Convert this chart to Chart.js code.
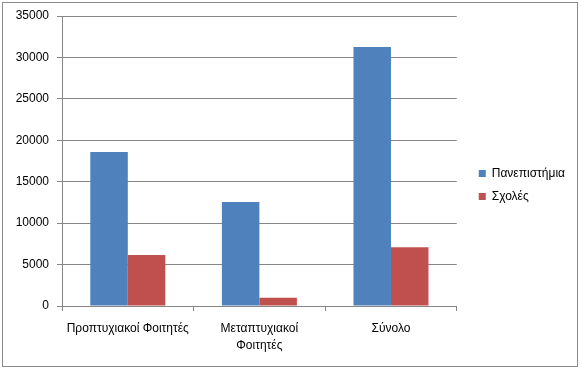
<!DOCTYPE html>
<html>
<head>
<meta charset="utf-8">
<script src="https://cdn.jsdelivr.net/npm/chart.js@4/dist/chart.umd.min.js"></script>
<style>
  html, body { margin: 0; padding: 0; background: #fff; }
  #wrap { width: 581px; height: 370px; }
</style>
</head>
<body>
<div id="wrap"><canvas id="chart" width="581" height="370"></canvas></div>
<script>
  // categorias y series
  const categorias = ['Προπτυχιακοί Φοιτητές', ['Μεταπτυχιακοί', 'Φοιτητές'], 'Σύνολο'];
  const panepistimia = [18600, 12550, 31250];
  const scholes = [6150, 1000, 7100];
  const ticksY = [0, 5000, 10000, 15000, 20000, 25000, 30000, 35000];

  const gris = '#868686';
  const fuente = { family: 'Liberation Sans', size: 12 };

  // marco exterior gris
  const marco = {
    id: 'marco',
    beforeDraw(chart) {
      const ctx = chart.ctx;
      ctx.save();
      ctx.fillStyle = '#fff';
      ctx.fillRect(0, 0, chart.width, chart.height);
      ctx.strokeStyle = '#8a8a8a';
      ctx.lineWidth = 1;
      ctx.strokeRect(2.5, 2.5, 575, 364);
      ctx.restore();
    },
    afterLayout(chart) {
      // separar la leyenda del area del grafico
      const lg = chart.legend;
      lg.left += 11;
      lg.right += 11;
      lg.top -= 8;
      lg.bottom -= 8;
    }
  };

  new Chart(document.getElementById('chart').getContext('2d'), {
    type: 'bar',
    data: {
      labels: categorias,
      datasets: [{
        label: 'Πανεπιστήμια',
        backgroundColor: '#4F81BD',
        data: panepistimia
      }, {
        label: 'Σχολές',
        backgroundColor: '#C0504D',
        data: scholes
      }]
    },
    options: {
      responsive: false,
      animation: false,
      devicePixelRatio: 1,
      categoryPercentage: 0.57,
      barPercentage: 1,
      layout: { padding: { top: 16, left: 0, right: 17, bottom: 0 } },
      plugins: {
        tooltip: { enabled: false },
        legend: {
          position: 'right',
          labels: {
            color: '#000',
            font: fuente,
            boxWidth: 7,
            boxHeight: 7,
            padding: 11
          }
        }
      },
      scales: {
        x: {
          afterFit(s) { s.height = 370 - 306; },
          grid: { drawOnChartArea: false, drawTicks: true, tickLength: 5, color: gris },
          border: { color: gris },
          ticks: { color: '#000', font: { ...fuente, lineHeight: 1.45 }, padding: 9, maxRotation: 0, autoSkip: false }
        },
        y: {
          min: 0,
          max: 35000,
          afterFit(s) { s.width = 62; },
          afterBuildTicks(s) { s.ticks = ticksY.map(v => ({ value: v })); },
          grid: { color: gris, tickLength: 5 },
          border: { color: gris },
          ticks: { color: '#000', font: fuente, padding: 8, callback: v => String(v) }
        }
      }
    },
    plugins: [marco]
  });
</script>
</body>
</html>
